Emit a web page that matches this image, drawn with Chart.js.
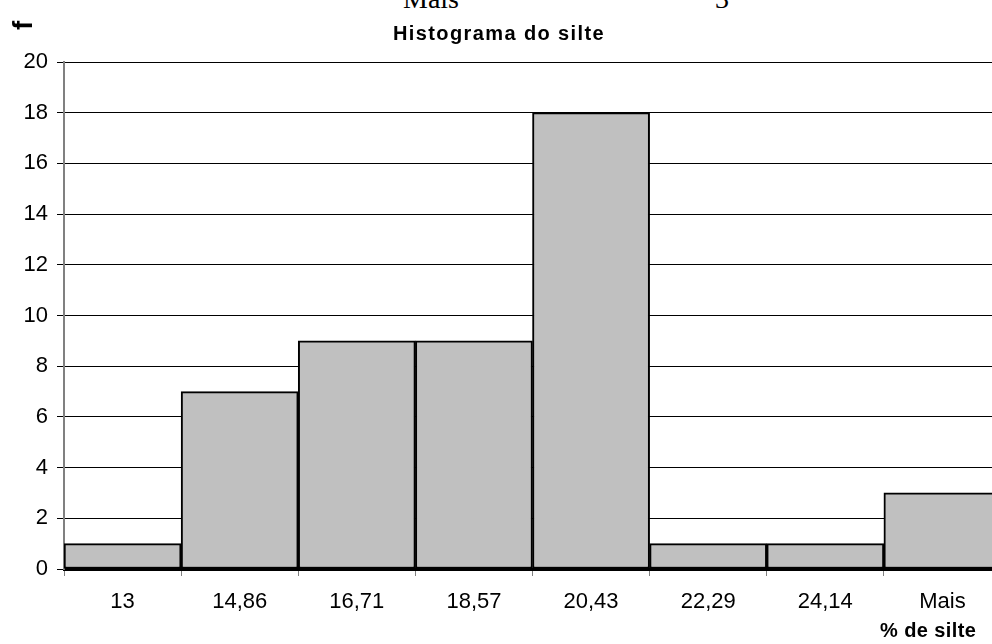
<!DOCTYPE html>
<html>
<head>
<meta charset="utf-8">
<script src="https://cdn.jsdelivr.net/npm/chart.js@4/dist/chart.umd.min.js"></script>
<style>
  html, body { margin: 0; padding: 0; background: #fff; overflow: hidden; }
  #wrap { position: relative; width: 992px; height: 644px; overflow: hidden; }
  #box { position: absolute; left: 0; top: 0; width: 1004px; height: 644px; }
  .txt { position: absolute; white-space: nowrap; color: #000; line-height: 1.15; }
  #title { left: 0; width: 998px; top: 22px; text-align: center;
           font: bold 20px "Liberation Sans", Arial, sans-serif; letter-spacing: 1.4px; }
  #xtitle { left: 880px; top: 619px; font: bold 20px "Liberation Sans", Arial, sans-serif; letter-spacing: 0.4px; }
  #ytitle { left: 7px; top: 30px; font: bold 28px "Liberation Sans", Arial, sans-serif;
            transform-origin: 0 0; transform: rotate(-90deg); }
  .cell { font: 28px "Liberation Serif", "Times New Roman", serif; top: -17px; }
</style>
</head>
<body>
<div id="wrap">
  <div class="txt cell" style="left:403px;">Mais</div>
  <div class="txt cell" style="left:715px;">3</div>
  <div id="box"><canvas id="c"></canvas></div>
  <div class="txt" id="title">Histograma do silte</div>
  <div class="txt" id="ytitle">f</div>
  <div class="txt" id="xtitle">% de silte</div>
</div>
<script>
// Silt classes (upper bin limits) and their counts
const bins = ['13', '14,86', '16,71', '18,57', '20,43', '22,29', '24,14', 'Mais'];
const freq = [1, 7, 9, 9, 18, 1, 1, 3];
const yTicks = [0, 2, 4, 6, 8, 10, 12, 14, 16, 18, 20];

const tickFont = { family: '"Liberation Sans", Arial, sans-serif', size: 22 };

new Chart(document.getElementById('c'), {
  type: 'bar',
  data: {
    labels: bins,
    datasets: [{
      data: freq,
      backgroundColor: '#c0c0c0',
      borderColor: '#000',
      borderWidth: 2,
      borderSkipped: false,
      categoryPercentage: 1,
      barPercentage: 1
    }]
  },
  options: {
    responsive: true,
    maintainAspectRatio: false,
    animation: false,
    layout: { padding: { top: 62, right: 3, left: 0, bottom: 0 } },
    plugins: { legend: { display: false }, tooltip: { enabled: false }, title: { display: false } },
    scales: {
      x: {
        offset: true,
        grid: { offset: true, drawOnChartArea: false, tickLength: 7, color: '#808080', lineWidth: 1 },
        border: { color: '#000', width: 3 },
        ticks: { color: '#000', font: tickFont, padding: 13, maxRotation: 0, autoSkip: false },
        afterFit: s => { s.height = 75; }
      },
      y: {
        min: 0, max: 20,
        afterBuildTicks: s => { s.ticks = yTicks.map(v => ({ value: v })); },
        grid: { color: '#000', lineWidth: 1, tickLength: 7, drawTicks: true },
        border: { color: '#808080', width: 2 },
        ticks: { color: '#000', font: tickFont, padding: 9 },
        afterFit: s => { s.width = 64; }
      }
    }
  }
});
</script>
</body>
</html>
